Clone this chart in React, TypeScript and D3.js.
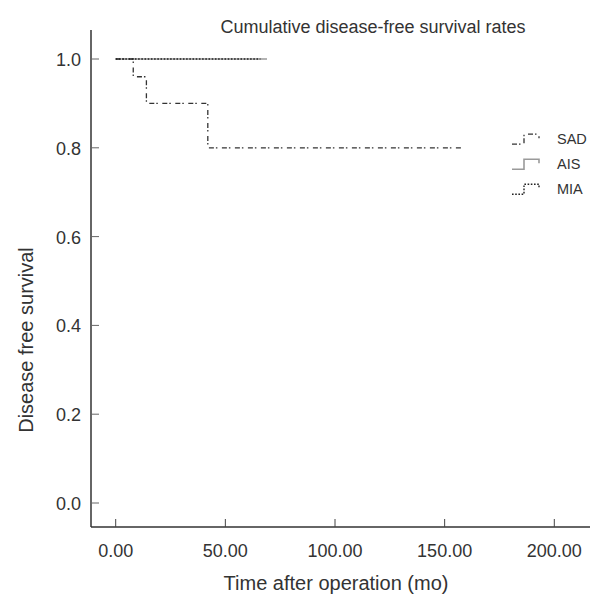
import React, { useRef, useEffect } from 'react';
import * as d3 from 'd3';

// survival curves (months, proportion)
const sadTimes = [0, 8, 14, 42, 158];
const sadSurvival = [1.0, 0.96, 0.9, 0.8, 0.8];
const aisTimes = [0, 69];
const aisSurvival = [1.0, 1.0];
const miaTimes = [0, 66];
const miaSurvival = [1.0, 1.0];

const xTicks = [0, 50, 100, 150, 200];
const yTicks = [0, 0.2, 0.4, 0.6, 0.8, 1.0];
const groupNames = ['SAD', 'AIS', 'MIA'];

const WIDTH = 590;
const HEIGHT = 596;
const FONT = '"Liberation Sans", Arial, Helvetica, sans-serif';

function App() {
  const svgRef = useRef<SVGSVGElement>(null);

  useEffect(() => {
    const svg = d3.select(svgRef.current);
    svg.selectAll('*').remove();

    const xScale = d3.scaleLinear().domain([0, 200]).range([115.7, 554.3]);
    const yScale = d3.scaleLinear().domain([0, 1]).range([503, 59]);
    const axisX = 91;
    const axisY = 527;

    const styles: Record<string, { stroke: string; width: number; dash: string | null }> = {
      SAD: { stroke: '#333', width: 1.3, dash: '5,2,1.5,4.5' },
      AIS: { stroke: '#9a9a9a', width: 1.6, dash: null },
      MIA: { stroke: '#222', width: 1.4, dash: '1.6,1.6' },
    };

    // axes lines
    svg.append('line')
      .attr('x1', axisX).attr('x2', axisX)
      .attr('y1', 30).attr('y2', axisY)
      .attr('stroke', '#333').attr('stroke-width', 1.5);
    svg.append('line')
      .attr('x1', axisX).attr('x2', WIDTH)
      .attr('y1', axisY).attr('y2', axisY)
      .attr('stroke', '#333').attr('stroke-width', 1.5);

    // y ticks
    const yg = svg.append('g');
    yg.selectAll('line')
      .data(yTicks)
      .join('line')
      .attr('x1', axisX).attr('x2', axisX + 8)
      .attr('y1', (d) => yScale(d)).attr('y2', (d) => yScale(d))
      .attr('stroke', '#666').attr('stroke-width', 1);
    yg.selectAll('text')
      .data(yTicks)
      .join('text')
      .attr('x', 81)
      .attr('y', (d) => yScale(d) + 7)
      .attr('text-anchor', 'end')
      .attr('font-family', FONT)
      .attr('font-size', 18)
      .attr('fill', '#333')
      .text((d) => d3.format('.1f')(d));

    // x ticks
    const xg = svg.append('g');
    xg.selectAll('line')
      .data(xTicks)
      .join('line')
      .attr('x1', (d) => xScale(d)).attr('x2', (d) => xScale(d))
      .attr('y1', axisY).attr('y2', axisY - 8)
      .attr('stroke', '#444').attr('stroke-width', 1);
    xg.selectAll('text')
      .data(xTicks)
      .join('text')
      .attr('x', (d) => xScale(d))
      .attr('y', 557)
      .attr('text-anchor', 'middle')
      .attr('font-family', FONT)
      .attr('font-size', 18)
      .attr('fill', '#333')
      .text((d) => d3.format('.2f')(d));

    // survival curves
    const series = [
      { name: 'AIS', times: aisTimes, surv: aisSurvival },
      { name: 'SAD', times: sadTimes, surv: sadSurvival },
      { name: 'MIA', times: miaTimes, surv: miaSurvival },
    ];
    const line = d3.line<[number, number]>()
      .x((d) => xScale(d[0]))
      .y((d) => yScale(d[1]))
      .curve(d3.curveStepAfter);
    series.forEach((s) => {
      const st = styles[s.name];
      svg.append('path')
        .datum(s.times.map((t, i) => [t, s.surv[i]] as [number, number]))
        .attr('d', line)
        .attr('fill', 'none')
        .attr('stroke', st.stroke)
        .attr('stroke-width', st.width)
        .attr('stroke-dasharray', st.dash);
    });

    // legend
    const legend = svg.append('g');
    groupNames.forEach((name, i) => {
      const cy = 138.7 + i * 25;
      const st = styles[name];
      legend.append('path')
        .attr('d', `M512,${cy + 5.5}H524V${cy - 4.5}H539V${cy - 0.5}`)
        .attr('fill', 'none')
        .attr('stroke', st.stroke)
        .attr('stroke-width', st.width)
        .attr('stroke-dasharray', st.dash);
      legend.append('text')
        .attr('x', 557)
        .attr('y', cy + 5.5)
        .attr('font-family', FONT)
        .attr('font-size', 14.5)
        .attr('fill', '#333')
        .text(name);
    });

    // titles
    svg.append('text')
      .attr('x', 373).attr('y', 33)
      .attr('text-anchor', 'middle')
      .attr('font-family', FONT)
      .attr('font-size', 18)
      .attr('fill', '#333')
      .text('Cumulative disease-free survival rates');

    svg.append('text')
      .attr('x', 336).attr('y', 590)
      .attr('text-anchor', 'middle')
      .attr('font-family', FONT)
      .attr('font-size', 20)
      .attr('fill', '#333')
      .text('Time after operation (mo)');

    svg.append('text')
      .attr('transform', `translate(33, 340) rotate(-90)`)
      .attr('text-anchor', 'middle')
      .attr('font-family', FONT)
      .attr('font-size', 20)
      .attr('fill', '#333')
      .text('Disease free survival');
  }, []);

  return (
    <svg
      ref={svgRef}
      width={WIDTH}
      height={HEIGHT}
      style={{ position: 'absolute', left: 0, top: 0, background: '#fff' }}
    />
  );
}

export default App;
